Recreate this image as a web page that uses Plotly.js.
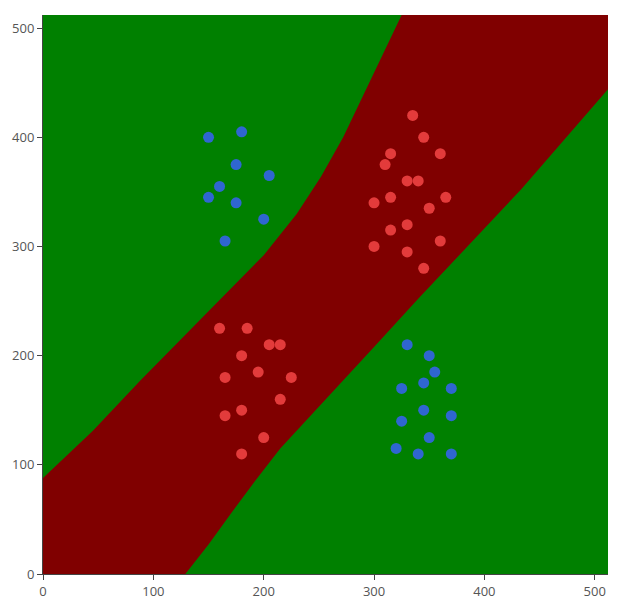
<!DOCTYPE html>
<html>
<head>
<meta charset="utf-8">
<script src="https://cdn.plot.ly/plotly-3.0.1.min.js"></script>
<style>html,body{margin:0;padding:0;background:#fff;}#chart{width:640px;height:600px;}</style>
</head>
<body>
<div id="chart"></div>
<script>
// Class A (red) samples
const redX = [335,345,315,360,310,330,340,300,315,365,350,330,315,300,360,330,345,
              160,185,205,215,180,195,165,225,215,180,165,200,180];
const redY = [420,400,385,385,375,360,360,340,345,345,335,320,315,300,305,295,280,
              225,225,210,210,200,185,180,180,160,150,145,125,110];
// Class B (blue) samples
const blueX = [150,180,175,205,160,150,175,200,165,
               330,350,355,345,325,370,345,370,325,350,320,340,370];
const blueY = [400,405,375,365,355,345,340,325,305,
               210,200,185,175,170,170,150,145,140,125,115,110,110];
// Decision boundaries of the red region
const lowerBoundX = [129,150,170,192,215,250,300,340,433,512];
const lowerBoundY = [0,27,55,85,115,153,208,252,352,444];
const upperBoundX = [325,308,290,272,252,230,200,165,130,88,45,0];
const upperBoundY = [512,476,438,400,364,330,292,256,220,177,131,88];
const axisMax = 512;

const regionX = lowerBoundX.concat([axisMax]).concat(upperBoundX).concat([0, lowerBoundX[0]]);
const regionY = lowerBoundY.concat([axisMax]).concat(upperBoundY).concat([0, lowerBoundY[0]]);

const traces = [
  {x: regionX, y: regionY, type: 'scatter', mode: 'lines', fill: 'toself',
   fillcolor: '#800000', line: {width: 0, color: '#800000'},
   hoverinfo: 'skip', showlegend: false},
  {x: redX, y: redY, type: 'scatter', mode: 'markers',
   marker: {size: 11, color: '#e33b3b'}, showlegend: false},
  {x: blueX, y: blueY, type: 'scatter', mode: 'markers',
   marker: {size: 11, color: '#2f66d0'}, showlegend: false}
];

const axisCommon = {
  range: [0, axisMax], showgrid: false, zeroline: false,
  showline: true, linecolor: '#444', linewidth: 1,
  ticks: 'outside', ticklen: 5, tickcolor: '#444',
  tickfont: {family: 'Open Sans, Noto Sans, sans-serif', size: 13, color: '#555'},
  dtick: 100, fixedrange: true
};

const layout = {
  width: 640, height: 600,
  margin: {l: 43, r: 32, t: 15, b: 26, pad: 0},
  paper_bgcolor: '#ffffff', plot_bgcolor: '#008000',
  xaxis: Object.assign({}, axisCommon),
  yaxis: Object.assign({}, axisCommon),
  showlegend: false
};

Plotly.newPlot('chart', traces, layout, {displayModeBar: false, staticPlot: true});
</script>
</body>
</html>
